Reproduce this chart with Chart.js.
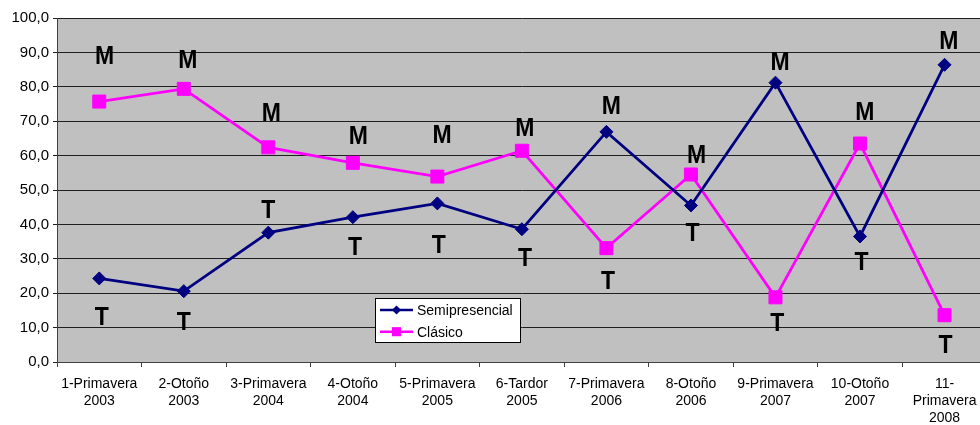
<!DOCTYPE html>
<html>
<head>
<meta charset="utf-8">
<script src="https://cdn.jsdelivr.net/npm/chart.js@4/dist/chart.umd.min.js"></script>
<style>
  html, body { margin: 0; padding: 0; background: #ffffff; overflow: hidden; }
  #wrap { width: 997px; height: 425px; }
</style>
</head>
<body>
<div id="wrap"><canvas id="chart" width="997" height="425"></canvas></div>
<script>
// Convocatorias (semestre y año)
const categories = [
  ['1-Primavera', '2003'], ['2-Otoño', '2003'], ['3-Primavera', '2004'],
  ['4-Otoño', '2004'], ['5-Primavera', '2005'], ['6-Tardor', '2005'],
  ['7-Primavera', '2006'], ['8-Otoño', '2006'], ['9-Primavera', '2007'],
  ['10-Otoño', '2007'], ['11-', 'Primavera', '2008']
];

// Porcentajes por modalidad
const semipresencial = [24.3, 20.6, 37.6, 42.1, 46.1, 38.6, 66.9, 45.5, 81.2, 36.5, 86.4];
const clasico        = [75.7, 79.4, 62.4, 57.9, 53.9, 61.4, 33.1, 54.5, 18.8, 63.5, 13.6];

// Etiqueta de cada punto: M (mañana) o T (tarde)
const semipresencialTurno = ['T', 'T', 'T', 'T', 'T', 'T', 'M', 'T', 'M', 'T', 'M'];
const clasicoTurno        = ['M', 'M', 'M', 'M', 'M', 'M', 'T', 'M', 'T', 'M', 'T'];

// Marcas del eje Y
const yTicks = [0, 10, 20, 30, 40, 50, 60, 70, 80, 90, 100];

const FONT = "'Liberation Sans', Arial, sans-serif";
const NAVY = '#000080';
const MAGENTA = '#ff00ff';

// Fondo gris del área de trazado
const plotBackground = {
  id: 'plotBackground',
  beforeDraw(chart) {
    const { ctx, chartArea: a } = chart;
    ctx.save();
    ctx.fillStyle = '#c0c0c0';
    ctx.fillRect(a.left, a.top, a.right - a.left, a.bottom - a.top);
    ctx.restore();
  }
};

// Letras M / T junto a cada punto
const turnoLabels = {
  id: 'turnoLabels',
  afterDatasetsDraw(chart, args, opts) {
    const { ctx } = chart;
    ctx.save();
    ctx.font = 'bold ' + opts.size + 'px ' + FONT;
    ctx.fillStyle = '#000';
    ctx.textAlign = 'center';
    ctx.textBaseline = 'alphabetic';
    chart.data.datasets.forEach((ds, di) => {
      const meta = chart.getDatasetMeta(di);
      const offs = opts.offsets[di];
      meta.data.forEach((pt, i) => {
        const [dx, dy] = offs[i];
        ctx.save();
        ctx.translate(pt.x + dx, pt.y + dy);
        ctx.scale(1, opts.stretch);
        ctx.fillText(ds.turnos[i], 0, opts.size * 0.716 / 2);
        ctx.restore();
      });
    });
    ctx.restore();
  }
};

// Leyenda con recuadro blanco dentro del área de trazado
const boxLegend = {
  id: 'boxLegend',
  afterDraw(chart, args, opts) {
    const { ctx } = chart;
    ctx.save();
    ctx.fillStyle = '#fff';
    ctx.fillRect(opts.x, opts.y, opts.w, opts.h);
    ctx.strokeStyle = '#000';
    ctx.lineWidth = 1;
    ctx.strokeRect(opts.x + 0.5, opts.y + 0.5, opts.w, opts.h);
    ctx.font = opts.size + 'px ' + FONT;
    ctx.textBaseline = 'middle';
    ctx.textAlign = 'left';
    chart.data.datasets.forEach((ds, i) => {
      const y = opts.y + opts.rowTop + i * opts.rowGap;
      const x0 = opts.x + 5, x1 = opts.x + 38, cx = (x0 + x1) / 2;
      ctx.strokeStyle = ds.borderColor;
      ctx.lineWidth = 2.5;
      ctx.beginPath();
      ctx.moveTo(x0, y);
      ctx.lineTo(x1, y);
      ctx.stroke();
      const r = ds.pointRadius * 0.7;
      ctx.fillStyle = ds.pointBackgroundColor;
      ctx.beginPath();
      if (ds.pointStyle === 'rectRot') {
        ctx.moveTo(cx - r, y); ctx.lineTo(cx, y - r); ctx.lineTo(cx + r, y); ctx.lineTo(cx, y + r);
      } else {
        const s = r * Math.SQRT1_2;
        ctx.rect(cx - s, y - s, 2 * s, 2 * s);
      }
      ctx.closePath();
      ctx.fill();
      ctx.fillStyle = '#000';
      ctx.fillText(ds.label, opts.x + 42, y + 1);
    });
    ctx.restore();
  }
};

new Chart(document.getElementById('chart'), {
  type: 'line',
  data: {
    labels: categories,
    datasets: [
      {
        label: 'Semipresencial',
        data: semipresencial,
        turnos: semipresencialTurno,
        borderColor: NAVY,
        backgroundColor: NAVY,
        pointBackgroundColor: NAVY,
        pointBorderColor: NAVY,
        borderWidth: 2.75,
        pointStyle: 'rectRot',
        pointRadius: 6.5,
        pointBorderWidth: 1,
        tension: 0,
        fill: false
      },
      {
        label: 'Clásico',
        data: clasico,
        turnos: clasicoTurno,
        borderColor: MAGENTA,
        backgroundColor: MAGENTA,
        pointBackgroundColor: MAGENTA,
        pointBorderColor: MAGENTA,
        borderWidth: 2.75,
        pointStyle: 'rect',
        pointRadius: 9.2,
        pointBorderWidth: 1,
        tension: 0,
        fill: false
      }
    ]
  },
  options: {
    responsive: false,
    animation: false,
    devicePixelRatio: 1,
    layout: { padding: { top: 18, right: 1, left: 0, bottom: 0 } },
    plugins: {
      legend: { display: false },
      tooltip: { enabled: false },
      turnoLabels: {
        size: 23,
        stretch: 1.12,
        offsets: [
          [[2.4, 37.4], [0, 30], [0, -24.3], [2.3, 29], [1.3, 40], [3, 27.7],
           [5, -27.4], [1.6, 26.7], [4.7, -22.3], [1.4, 24.3], [4.3, -25]],
          [[5.4, -47], [4, -29.7], [3, -35.7], [5.6, -28], [4.6, -42.4], [3, -23.6],
           [1.6, 31.3], [5.7, -20.4], [1.7, 24], [4.7, -32.3], [1, 29]]
        ]
      },
      boxLegend: { x: 375, y: 298, w: 145, h: 44, size: 14, rowTop: 12, rowGap: 21.7 }
    },
    scales: {
      x: {
        offset: true,
        grid: {
          offset: true,
          drawOnChartArea: false,
          drawTicks: true,
          tickLength: 5,
          color: '#404040'
        },
        border: { display: true, color: '#404040', width: 1 },
        ticks: {
          color: '#000',
          font: { family: FONT, size: 14, lineHeight: 1.24 },
          padding: 8,
          maxRotation: 0,
          autoSkip: false
        },
        afterFit(scale) { scale.height = 63; }
      },
      y: {
        min: 0,
        max: 100,
        afterBuildTicks(scale) { scale.ticks = yTicks.map(v => ({ value: v })); },
        grid: {
          color: '#1e1e1e',
          lineWidth: 1,
          drawTicks: true,
          tickLength: 4
        },
        border: { display: true, color: '#404040', width: 1 },
        ticks: {
          color: '#000',
          font: { family: FONT, size: 15 },
          padding: 4,
          callback: v => v.toFixed(1).replace('.', ',')
        },
        afterFit(scale) { scale.width = 57; }
      }
    }
  },
  plugins: [plotBackground, turnoLabels, boxLegend]
});
</script>
</body>
</html>
